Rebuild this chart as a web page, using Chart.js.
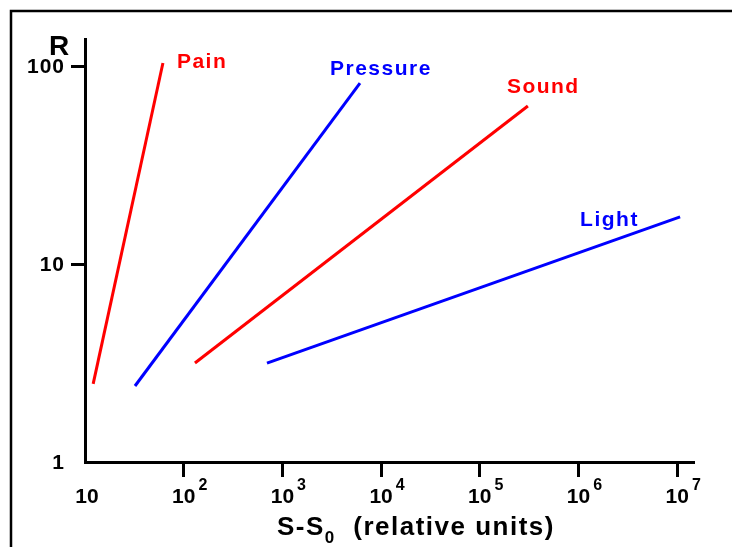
<!DOCTYPE html>
<html>
<head>
<meta charset="utf-8">
<script src="https://cdn.jsdelivr.net/npm/chart.js@4"></script>
<style>
  body { margin: 0; background: #fff; }
  canvas { display: block; }
</style>
</head>
<body>
<canvas id="chart" width="732" height="547"></canvas>
<script>
// values (log-log)
var seriesNames = ["Pain", "Pressure", "Sound", "Light"]
var seriesColors = ["#ff0000", "#0000ff", "#ff0000", "#0000ff"]
var painX = [12.1, 61.6]
var painY = [2.48, 103.5]
var pressureX = [32.1, 6110]
var pressureY = [2.42, 82]
var soundX = [130, 307000]
var soundY = [3.16, 62.8]
var lightX = [698, 10700000]
var lightY = [3.16, 17.3]
var xTicks = [10, 100, 1000, 10000, 100000, 1000000, 10000000]
var yTicks = [1, 10, 100]
var xTitle = "S-S"
var xTitleSub = "0"
var xTitleRest = "  (relative units)"
var yTitle = "R"

// where each series name sits relative to the upper end of its line
var nameOffsets = [[14, 5], [-30, -8], [-21, -13], [-100, 9]]

var allX = [painX, pressureX, soundX, lightX]
var allY = [painY, pressureY, soundY, lightY]

var datasets = seriesNames.map(function (name, i) {
    return {
        label: name,
        data: allX[i].map(function (x, j) { return { x: x, y: allY[i][j] } }),
        showLine: true,
        borderColor: seriesColors[i],
        borderWidth: 3,
        pointRadius: 0,
        fill: false
    }
})

var font = "'Liberation Sans', Arial, sans-serif"

function spacing(ctx, s) {
    try { ctx.letterSpacing = s } catch (e) {}
}

var drawText = {
    id: "drawText",
    beforeDraw: function (chart) {
        var ctx = chart.ctx
        ctx.save()
        ctx.fillStyle = "#fff"
        ctx.fillRect(0, 0, chart.width, chart.height)
        // frame
        ctx.strokeStyle = "#000"
        ctx.lineWidth = 2.5
        ctx.beginPath()
        ctx.moveTo(11, chart.height)
        ctx.lineTo(11, 11)
        ctx.lineTo(chart.width, 11)
        ctx.stroke()
        ctx.restore()
    },
    afterDraw: function (chart) {
        var ctx = chart.ctx
        var xs = chart.scales.x
        var ys = chart.scales.y
        ctx.save()
        ctx.fillStyle = "#000"

        // y tick labels
        spacing(ctx, "1px")
        ctx.font = "bold 21px " + font
        ctx.textAlign = "right"
        ctx.textBaseline = "middle"
        yTicks.forEach(function (v) {
            ctx.fillText(String(v), 65, ys.getPixelForValue(v) + 1)
        })

        // x tick labels with superscript exponents
        ctx.textBaseline = "alphabetic"
        xTicks.forEach(function (v, i) {
            var px = xs.getPixelForValue(v)
            var exp = Math.round(Math.log10(v))
            spacing(ctx, "0px")
            ctx.font = "bold 21px " + font
            ctx.textAlign = "center"
            if (exp == 1) {
                ctx.fillText("10", px + 2, 503)
                return
            }
            ctx.fillText("10", px, 503)
            var w = ctx.measureText("10").width
            ctx.font = "bold 16px " + font
            ctx.textAlign = "left"
            ctx.fillText(String(exp), px + w / 2 + 3, 490)
        })

        // axis titles
        spacing(ctx, "0px")
        ctx.font = "bold 28px " + font
        ctx.textAlign = "left"
        ctx.fillText(yTitle, 49, 55)

        spacing(ctx, "1.5px")
        ctx.font = "bold 26px " + font
        var tx = 277
        ctx.fillText(xTitle, tx, 535)
        tx += ctx.measureText(xTitle).width
        ctx.font = "bold 17px " + font
        ctx.fillText(xTitleSub, tx, 543)
        tx += ctx.measureText(xTitleSub).width
        ctx.font = "bold 26px " + font
        ctx.fillText(xTitleRest, tx, 535)

        // series names
        spacing(ctx, "1.5px")
        ctx.font = "bold 21px " + font
        datasets.forEach(function (ds, i) {
            var last = ds.data[ds.data.length - 1]
            var px = xs.getPixelForValue(last.x) + nameOffsets[i][0]
            var py = ys.getPixelForValue(last.y) + nameOffsets[i][1]
            ctx.fillStyle = seriesColors[i]
            ctx.fillText(ds.label, px, py)
        })
        ctx.restore()
    }
}

var decadeX = 98.7
var decadeY = 198

new Chart(document.getElementById("chart"), {
    type: "scatter",
    data: { datasets: datasets },
    plugins: [drawText],
    options: {
        responsive: false,
        animation: false,
        layout: { padding: { top: 39, right: 38, left: 0, bottom: 0 } },
        plugins: {
            legend: { display: false },
            tooltip: { enabled: false },
            title: { display: false }
        },
        scales: {
            x: {
                type: "logarithmic",
                min: 10,
                max: Math.pow(10, 1 + 609 / decadeX),
                afterBuildTicks: function (scale) {
                    scale.ticks = xTicks.map(function (v) { return { value: v } })
                },
                afterFit: function (scale) { scale.height = 85 },
                ticks: { display: false },
                border: { display: true, color: "#000", width: 3 },
                grid: {
                    drawOnChartArea: false,
                    drawTicks: true,
                    tickLength: 15,
                    tickWidth: 3,
                    tickColor: function (c) { return c.index === 0 ? "rgba(0,0,0,0)" : "#000" }
                }
            },
            y: {
                type: "logarithmic",
                min: 1,
                max: Math.pow(10, 423 / decadeY),
                afterBuildTicks: function (scale) {
                    scale.ticks = yTicks.map(function (v) { return { value: v } })
                },
                afterFit: function (scale) { scale.width = 85 },
                ticks: { display: false },
                border: { display: true, color: "#000", width: 3 },
                grid: {
                    drawOnChartArea: false,
                    drawTicks: true,
                    tickLength: 14,
                    tickWidth: 3,
                    tickColor: function (c) { return c.index === 0 ? "rgba(0,0,0,0)" : "#000" }
                }
            }
        }
    }
})
</script>
</body>
</html>
